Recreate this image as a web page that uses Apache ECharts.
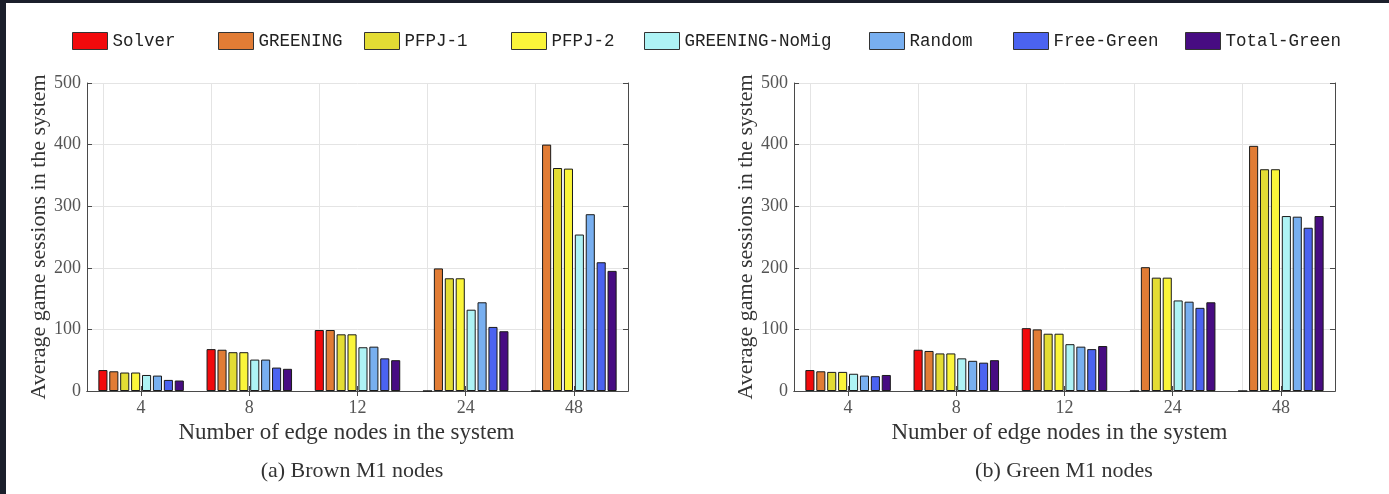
<!DOCTYPE html>
<html lang="en">
<head>
    <meta charset="UTF-8">
    <title>Average game sessions</title>
    <script type="text/javascript" src="https://cdn.jsdelivr.net/npm/echarts@6/dist/echarts.min.js"></script>
    <style>
        body {
            margin: 0;
            padding: 0;
            border: none;
            overflow: hidden;
            background: #1b1f2b;
        }
        #chart {
            position: absolute;
            left: 6px;
            top: 3px;
            width: 1383px;
            height: 491px;
            background: #ffffff;
        }
    </style>
</head>
<body>
<div id="chart"></div>
</body>
<script>
    // x categories (number of edge nodes)
    const nodes = ['4', '8', '12', '24', '48']
    const methods = ['Solver', 'GREENING', 'PFPJ-1', 'PFPJ-2', 'GREENING-NoMig', 'Random', 'Free-Green', 'Total-Green']
    const colors = ['#f20a0c', '#e17c35', '#e3dc34', '#fbf53a', '#aef3f5', '#78aff0', '#4b63f0', '#470c82']

    // (a) Brown M1 nodes
    const brownSolver = [34, 68, 99, 0, 0]
    const brownGreening = [32, 67, 99, 199, 400]
    const brownPfpj1 = [30, 63, 92, 183, 362]
    const brownPfpj2 = [30, 63, 92, 183, 361]
    const brownNoMig = [26, 51, 71, 132, 254]
    const brownRandom = [25, 51, 72, 144, 287]
    const brownFreeGreen = [18, 38, 53, 104, 209]
    const brownTotalGreen = [17, 36, 50, 97, 195]

    // (b) Green M1 nodes
    const greenSolver = [34, 67, 102, 0, 0]
    const greenGreening = [32, 65, 100, 201, 398]
    const greenPfpj1 = [31, 61, 93, 184, 360]
    const greenPfpj2 = [31, 61, 93, 184, 360]
    const greenNoMig = [28, 53, 76, 147, 284]
    const greenRandom = [25, 49, 72, 145, 283]
    const greenFreeGreen = [24, 46, 68, 135, 265]
    const greenTotalGreen = [26, 50, 73, 144, 284]

    const yTicks = [0, 100, 200, 300, 400, 500]

    const brownData = [brownSolver, brownGreening, brownPfpj1, brownPfpj2, brownNoMig, brownRandom, brownFreeGreen, brownTotalGreen]
    const greenData = [greenSolver, greenGreening, greenPfpj1, greenPfpj2, greenNoMig, greenRandom, greenFreeGreen, greenTotalGreen]

    const serif = '"Liberation Serif", "DejaVu Serif", serif'
    const mono = '"Liberation Mono", "DejaVu Sans Mono", monospace'
    const axisColor = '#4a4a4a'

    function bottomAxis(grid, shift) {
        return {
            type: 'category', gridIndex: grid, data: nodes, position: 'bottom',
            name: 'Number of edge nodes in the system', nameLocation: 'middle', nameGap: 30,
            nameTextStyle: {fontFamily: serif, fontSize: 23, color: '#333', padding: [0, shift, 0, 0]},
            axisLine: {show: true, lineStyle: {color: axisColor}},
            axisTick: {show: true, inside: true, alignWithLabel: true, length: 5, lineStyle: {color: axisColor}},
            axisLabel: {fontFamily: serif, fontSize: 18, color: '#555', margin: 8},
            splitLine: {show: false}
        }
    }
    function topAxis(grid) {
        return {
            type: 'category', gridIndex: grid, data: nodes, position: 'top',
            axisLine: {show: true, lineStyle: {color: axisColor}},
            axisTick: {show: true, inside: true, alignWithLabel: true, length: 5, lineStyle: {color: axisColor}},
            axisLabel: {show: false},
            splitLine: {show: false}
        }
    }
    function leftAxis(grid) {
        return {
            type: 'value', gridIndex: grid, min: yTicks[0], max: yTicks[yTicks.length - 1], interval: 100,
            position: 'left',
            name: 'Average game sessions in the system', nameLocation: 'middle', nameGap: 36,
            nameTextStyle: {fontFamily: serif, fontSize: 22, color: '#333'},
            axisLine: {show: true, lineStyle: {color: axisColor}},
            axisTick: {show: true, inside: true, length: 5, lineStyle: {color: axisColor}},
            axisLabel: {fontFamily: serif, fontSize: 18, color: '#555', margin: 6},
            splitLine: {show: true, lineStyle: {color: '#e4e4e4'}}
        }
    }
    function rightAxis(grid) {
        return {
            type: 'value', gridIndex: grid, min: yTicks[0], max: yTicks[yTicks.length - 1], interval: 100,
            position: 'right',
            axisLine: {show: true, lineStyle: {color: axisColor}},
            axisTick: {show: true, inside: true, length: 5, lineStyle: {color: axisColor}},
            axisLabel: {show: false},
            splitLine: {show: false}
        }
    }

    function barSeries(data, xIdx, yIdx) {
        return methods.map(function (name, i) {
            const s = {
                name: name,
                type: 'bar',
                xAxisIndex: xIdx,
                yAxisIndex: yIdx,
                data: data[i],
                barGap: '20%',
                barCategoryGap: '21%',
                itemStyle: {color: colors[i], borderColor: '#1a1a1a', borderWidth: 1},
                z: 2
            }
            if (i === 0) {
                // vertical grid lines at the category centres
                s.markLine = {
                    silent: true, symbol: 'none', z: 1, animation: false,
                    label: {show: false},
                    lineStyle: {color: '#e4e4e4', type: 'solid', width: 1},
                    data: nodes.map(function (n) { return {xAxis: n} })
                }
            }
            return s
        })
    }

    // one small legend per item so each can be placed like the original
    const legendLeft = [66, 212, 358, 505, 638, 863, 1007, 1179]
    function buildLegends() {
        return methods.map(function (name, i) {
            return {
                data: [name],
                left: legendLeft[i],
                top: 29,
                padding: 0,
                itemWidth: 35,
                itemHeight: 17,
                icon: 'rect',
                itemStyle: {borderColor: '#333', borderWidth: 1},
                textStyle: {fontFamily: mono, fontSize: 17.5, color: '#222'}
            }
        })
    }

    function createChart() {
        window.chart = echarts.init(document.getElementById('chart'))
        const option = {
            animation: false,
            backgroundColor: '#ffffff',
            legend: buildLegends(),
            title: [
                {text: '(a) Brown M1 nodes', left: 341, top: 452, textAlign: 'center',
                    textStyle: {fontFamily: serif, fontSize: 22, fontWeight: 'normal', color: '#333'}},
                {text: '(b) Green M1 nodes', left: 1053, top: 452, textAlign: 'center',
                    textStyle: {fontFamily: serif, fontSize: 22, fontWeight: 'normal', color: '#333'}}
            ],
            grid: [
                {left: 81, top: 80, width: 541, height: 308},
                {left: 788, top: 80, width: 541, height: 308}
            ],
            xAxis: [bottomAxis(0, 22), topAxis(0), bottomAxis(1, 10), topAxis(1)],
            yAxis: [leftAxis(0), rightAxis(0), leftAxis(1), rightAxis(1)],
            series: barSeries(brownData, 0, 0).concat(barSeries(greenData, 2, 2))
        }
        window.chart.setOption(option)
    }

    window.chart = null
    window.onresize = function () {
        window.chart.resize()
    }
    window.onload = function () {
        createChart()
    }
</script>
</html>
